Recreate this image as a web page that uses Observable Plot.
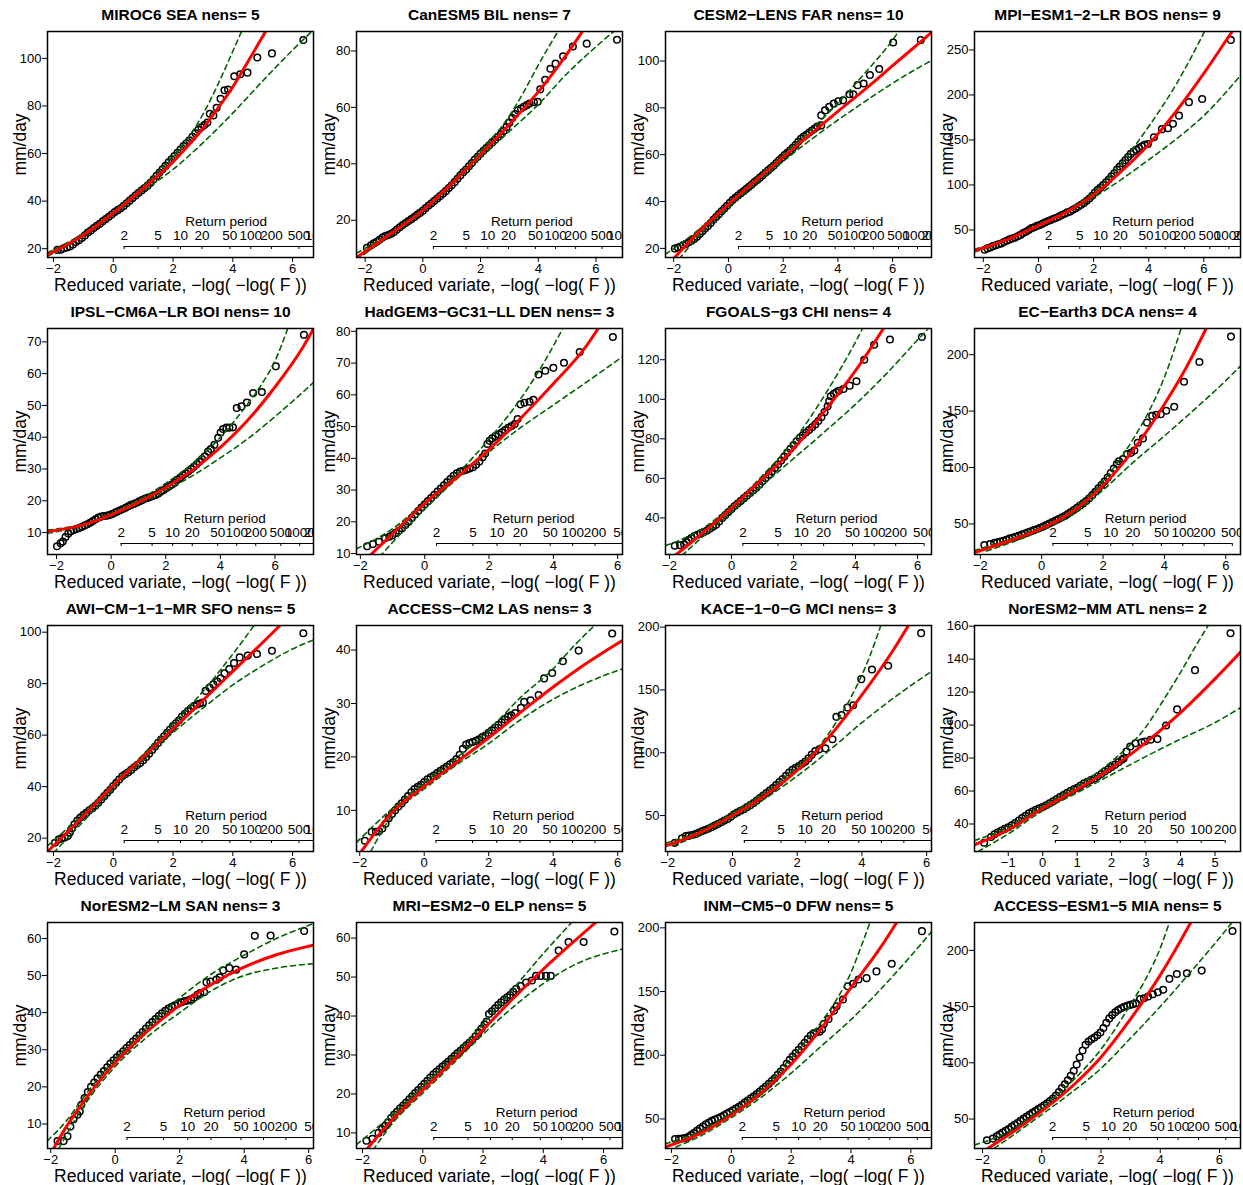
<!DOCTYPE html>
<html><head><meta charset="utf-8">
<script src="https://cdn.jsdelivr.net/npm/d3@7"></script>
<script src="https://cdn.jsdelivr.net/npm/@observablehq/plot@0.6"></script>
<style>
body{margin:0;background:#fff;}
#wrap{position:relative;width:1243px;height:1185px;overflow:hidden;}
.panel{position:absolute;width:313px;height:297px;}
</style></head><body><div id="wrap"></div>
<script>
// ---------- panel metadata ----------
const titles = ["MIROC6 SEA nens= 5","CanESM5 BIL nens= 7","CESM2\u2212LENS FAR nens= 10","MPI\u2212ESM1\u22122\u2212LR BOS nens= 9",
"IPSL\u2212CM6A\u2212LR BOI nens= 10","HadGEM3\u2212GC31\u2212LL DEN nens= 3","FGOALS\u2212g3 CHI nens= 4","EC\u2212Earth3 DCA nens= 4",
"AWI\u2212CM\u22121\u22121\u2212MR SFO nens= 5","ACCESS\u2212CM2 LAS nens= 3","KACE\u22121\u22120\u2212G MCI nens= 3","NorESM2\u2212MM ATL nens= 2",
"NorESM2\u2212LM SAN nens= 3","MRI\u2212ESM2\u22120 ELP nens= 5","INM\u2212CM5\u22120 DFW nens= 5","ACCESS\u2212ESM1\u22125 MIA nens= 5"];
const xDomains = [[-2.2,6.7],[-2.3,6.92],[-2.3,7.42],[-2.32,7.33],[-2.33,7.41],[-2.12,6.15],[-2.13,6.45],[-2.19,6.48],
[-2.2,6.7],[-2.1,6.15],[-2.07,6.15],[-1.98,5.74],[-2.1,6.15],[-2.2,6.63],[-2.2,6.69],[-2.27,6.71]];
const yDomains = [[16.3,111.3],[6.8,86.9],[16.1,112.6],[19.4,270.5],[3.1,74.2],[9.7,80.9],[21.5,135.8],[22.9,223.2],
[14.8,102.6],[2.3,44.6],[21.4,201.3],[23.3,160.4],[3.4,64.3],[6.0,64.0],[26.8,204.2],[23.8,224.8]];
const yTickValues = [[20,40,60,80,100],[20,40,60,80],[20,40,60,80,100],[50,100,150,200,250],[10,20,30,40,50,60,70],[10,20,30,40,50,60,70,80],[40,60,80,100,120],[50,100,150,200],
[20,40,60,80,100],[10,20,30,40],[50,100,150,200],[40,60,80,100,120,140,160],[10,20,30,40,50,60],[10,20,30,40,50,60],[50,100,150,200],[50,100,150,200]];
const xTickValues = [[-2,0,2,4,6],[-2,0,2,4,6],[-2,0,2,4,6],[-2,0,2,4,6],[-2,0,2,4,6],[-2,0,2,4,6],[-2,0,2,4,6],[-2,0,2,4,6],
[-2,0,2,4,6],[-2,0,2,4,6],[-2,0,2,4,6],[-1,0,1,2,3,4,5],[-2,0,2,4,6],[-2,0,2,4,6],[-2,0,2,4,6],[-2,0,2,4,6]];
const returnPeriods = [2,5,10,20,50,100,200,500,1000,2000];
const xTitle = "Reduced variate, \u2212log( \u2212log( F ))";
const yTitle = "mm/day";

// ---------- panel 1 MIROC6 SEA ----------
const p01Pts = [[-1.87,19.5],[-1.75,19.6],[-1.65,20.2],[-1.55,20.5],[-1.45,20.9],[-1.35,21.8],[-1.25,22.8],[-1.15,23.6],[-1.05,24.5],[-0.95,25.6],[-0.85,26.8],[-0.75,27.6],[-0.65,28.7],[-0.55,29.6],[-0.45,30.5],[-0.35,31.5],[-0.25,32.5],[-0.15,33.4],[-0.05,34.4],[0.05,35.4],[0.15,36.2],[0.25,37],[0.35,38],[0.45,39.1],[0.55,40.2],[0.65,41.3],[0.75,42.4],[0.85,43.5],[0.95,44.5],[1.05,45.5],[1.15,46.5],[1.25,47.7],[1.35,49.2],[1.45,50.6],[1.55,52],[1.65,53.4],[1.75,54.8],[1.85,56.3],[1.95,57.6],[2.05,58.9],[2.15,60.3],[2.25,61.7],[2.35,63.1],[2.45,64.3],[2.55,65.6],[2.65,67],[2.75,68.5],[2.85,70],[2.95,71],[3.05,72],[3.15,73],[3.23,76.7],[3.35,76],[3.46,79.2],[3.59,83],[3.72,86.6],[3.84,86.9],[4.05,92.5],[4.25,93.3],[4.49,94],[4.82,100.4],[5.31,102.1],[6.36,107.7]];
const p01Fit = [[-2.2,17.5],[-1.5,22],[-1,25.8],[-0.5,30.2],[0,35],[0.5,40],[1,45.3],[1.5,50.8],[2,56.5],[2.5,63.3],[3,70.5],[3.5,79],[4,88],[4.5,98.5],[5.2,113.5]];
const p01Lo = [[-2.2,16.8],[-1,25.2],[0,34.5],[1,44.3],[2,53.3],[3,64.5],[4,77],[5,90.5],[6,103.5],[6.7,112]];
const p01Hi = [[-2.2,18.3],[-1,26.5],[0,35.6],[1,46.3],[2,59],[2.5,66.5],[3,76.5],[3.5,89],[4,103],[4.35,113]];

// ---------- panel 2 CanESM5 BIL ----------
const p02Pts = [[-1.94,10.2],[-1.8,11.1],[-1.7,11.8],[-1.6,12.4],[-1.5,13.1],[-1.4,13.9],[-1.3,14.4],[-1.2,14.8],[-1.1,15.2],[-1,15.8],[-0.9,16.7],[-0.8,17.5],[-0.7,18.3],[-0.6,19],[-0.5,19.7],[-0.4,20.4],[-0.3,21.1],[-0.2,21.9],[-0.1,22.6],[0,23.4],[0.1,24.3],[0.2,25.2],[0.3,26],[0.4,26.9],[0.5,27.7],[0.6,28.6],[0.7,29.5],[0.8,30.4],[0.9,31.4],[1,32.4],[1.1,33.5],[1.2,34.7],[1.3,35.9],[1.4,37],[1.5,38],[1.6,39.1],[1.7,40.3],[1.8,41.5],[1.9,42.5],[2,43.6],[2.1,44.6],[2.2,45.6],[2.3,46.6],[2.4,47.6],[2.5,48.5],[2.6,49.5],[2.7,50.5],[2.8,51.6],[2.9,53],[3,54.6],[3.1,56.2],[3.2,57.6],[3.29,59],[3.4,59.6],[3.5,60.2],[3.6,60.8],[3.7,61.4],[3.85,61.8],[3.98,62],[4.07,66.4],[4.24,69.8],[4.42,73.7],[4.6,75.5],[4.86,78.1],[5.2,81.6],[5.68,82.6],[6.73,84]];
const p02Fit = [[-2.3,6.8],[-1,16],[0,23.5],[1,33],[2,43.3],[3,54],[4,65.5],[5,79],[5.6,88]];
const p02Lo = [[-2.3,6],[-1,15.5],[0,23],[1,32.5],[2,42.2],[3,51.5],[4,61],[5,72],[6,81.5],[6.92,89.5]];
const p02Hi = [[-2.3,8.3],[-1,16.5],[0,24],[1,33.6],[2,44.5],[3,57],[3.5,65.5],[4,75],[4.75,88]];

// ---------- panel 3 CESM2-LENS FAR ----------
const p03Pts = [[-1.96,19.9],[-1.85,20.4],[-1.74,20.8],[-1.65,21.4],[-1.55,21.9],[-1.45,22.6],[-1.35,23.2],[-1.25,24],[-1.15,25],[-1.05,26.1],[-0.95,27.3],[-0.85,28.5],[-0.75,29.6],[-0.65,30.8],[-0.55,32.2],[-0.45,33.4],[-0.35,34.6],[-0.25,35.8],[-0.15,37],[-0.05,38.2],[0.05,39.5],[0.15,40.6],[0.25,41.6],[0.35,42.6],[0.45,43.5],[0.55,44.4],[0.65,45.3],[0.75,46.3],[0.85,47.3],[0.95,48.3],[1.05,49.2],[1.15,50.2],[1.25,51.2],[1.35,52.3],[1.45,53.3],[1.55,54.3],[1.65,55.3],[1.75,56.4],[1.85,57.6],[1.95,58.7],[2.05,59.8],[2.15,60.8],[2.25,61.8],[2.35,62.9],[2.45,64.1],[2.55,65.5],[2.65,66.8],[2.75,67.7],[2.85,68.5],[2.95,69.5],[3.05,70.3],[3.15,71.2],[3.25,72],[3.39,72.5],[3.39,76.8],[3.53,78.9],[3.68,80.4],[3.85,81.8],[4.01,82.8],[4.19,83.2],[4.42,85.8],[4.56,85.8],[4.72,89.7],[4.94,90.4],[5.17,94],[5.51,96.6],[6.02,107.9],[7.03,109]];
const p03Fit = [[-2.05,15],[-1,28],[0,38.8],[1,49],[2,59],[3,68.8],[4,78.5],[5,88],[6,98],[7,108],[7.5,113]];
const p03Lo = [[-1.8,15.5],[-1,26.5],[0,37.5],[1,47.8],[2,57.2],[3,66.3],[4,74.8],[5,82.8],[6,90.5],[7,97.5],[7.42,100.2]];
const p03Hi = [[-2.3,17.5],[-1,28.8],[0,39.3],[1,49.8],[2,60],[3,70.5],[4,82],[5,95],[6,109],[6.3,114]];

// ---------- panel 4 MPI-ESM1-2-LR BOS ----------
const p04Pts = [[-1.95,28],[-1.85,29.5],[-1.75,30.5],[-1.65,32],[-1.55,33],[-1.45,34],[-1.35,35],[-1.25,36.5],[-1.15,38],[-1.05,39.5],[-0.95,40.5],[-0.85,41.5],[-0.75,43],[-0.65,44.5],[-0.55,46.5],[-0.45,48],[-0.35,50],[-0.25,52],[-0.15,53],[-0.05,54.5],[0.05,55.5],[0.15,57],[0.25,58.5],[0.35,60],[0.45,61],[0.55,62.5],[0.65,63.5],[0.75,65],[0.85,66.5],[0.95,68],[1.05,69.5],[1.15,70.5],[1.25,72.5],[1.35,74],[1.45,76],[1.55,78],[1.65,80],[1.75,82.5],[1.85,85],[1.95,88],[2.05,91.5],[2.15,94.5],[2.25,97],[2.35,100],[2.45,103],[2.55,106],[2.65,109.5],[2.75,113],[2.85,117],[2.95,120.5],[3.05,124],[3.15,127.5],[3.25,131],[3.35,134.5],[3.45,137],[3.55,139],[3.65,141],[3.75,143],[3.85,144.5],[3.97,145.5],[4.19,153],[4.48,162],[4.7,163],[4.88,168],[5.1,177],[5.46,192],[5.94,195.5],[6.98,261]];
const p04Fit = [[-2.32,27],[-1,41],[0,55],[1,69.5],[2,89],[3,115],[4,145],[5,182],[6,224],[7.03,270.5],[7.2,278]];
const p04Lo = [[-2.32,25.5],[-1,40],[0,54],[1,68],[2,86],[3,106],[4,128],[5,151],[6,177],[7.34,222]];
const p04Hi = [[-2.32,28.5],[-1,42],[0,56],[1,71],[2,92],[3,124],[4,165],[5,212],[6.1,275]];

// ---------- panel 5 IPSL-CM6A-LR BOI ----------
const p05Pts = [[-1.98,5.7],[-1.85,6.6],[-1.77,7.2],[-1.67,8.6],[-1.57,9.7],[-1.47,10.4],[-1.37,10.8],[-1.27,11.1],[-1.17,11.4],[-1.07,11.8],[-0.97,12.2],[-0.87,12.6],[-0.77,13.1],[-0.67,13.6],[-0.57,14.2],[-0.47,14.7],[-0.37,15],[-0.27,15.2],[-0.17,15.3],[-0.07,15.5],[0.03,15.8],[0.13,16.2],[0.23,16.6],[0.33,17],[0.43,17.4],[0.53,17.8],[0.63,18.3],[0.73,18.7],[0.83,19],[0.93,19.4],[1.03,19.8],[1.13,20.2],[1.23,20.6],[1.33,20.9],[1.43,21.2],[1.53,21.5],[1.63,21.8],[1.73,22.3],[1.83,22.9],[1.93,23.4],[2.03,24],[2.13,24.6],[2.23,25.1],[2.33,25.7],[2.43,26.6],[2.53,27.3],[2.63,28],[2.73,28.6],[2.83,29.3],[2.93,30],[3.03,30.7],[3.13,31.5],[3.23,32.3],[3.33,33.1],[3.43,34],[3.55,35.5],[3.65,36.3],[3.78,37.6],[3.92,39.8],[4.01,41.5],[4.1,42.6],[4.22,43],[4.33,43],[4.46,43.1],[4.6,49.2],[4.77,49.7],[4.97,50.9],[5.2,53.9],[5.52,54.2],[6.03,62.3],[7.06,72.2]];
const p05Fit = [[-2.33,10.3],[-1,12.5],[0,15.6],[1,19.5],[2,24.2],[3,29.8],[4,36.8],[5,45.3],[6,55.8],[7,68],[7.5,75.5]];
const p05Lo = [[-2.33,9.8],[-1,12.2],[0,15.3],[1,19],[2,23.3],[3,28],[4,33.5],[5,39.5],[6,46.5],[7,54],[7.41,57.2]];
const p05Hi = [[-2.33,10.8],[-1,12.8],[0,16],[1,20.2],[2,25.5],[3,31.8],[4,40],[5,50.5],[5.5,56.5],[6,64],[6.5,75]];

// ---------- panel 6 HadGEM3-GC31-LL DEN ----------
const p06Pts = [[-1.79,12.3],[-1.61,13],[-1.42,13.7],[-1.23,14.8],[-1.1,15.3],[-1,15.8],[-0.9,16.5],[-0.8,17.2],[-0.7,18],[-0.6,19],[-0.5,20],[-0.4,21.2],[-0.3,22.3],[-0.2,23.4],[-0.1,24.5],[0,25.5],[0.1,26.5],[0.2,27.5],[0.3,28.5],[0.4,29.5],[0.5,30.5],[0.6,31.5],[0.7,32.5],[0.8,33.5],[0.9,34.5],[1,35.3],[1.1,35.8],[1.2,36.1],[1.3,36.4],[1.4,36.8],[1.5,37.2],[1.6,38],[1.7,39],[1.8,40.3],[1.88,41.5],[1.95,44.5],[2.02,45.5],[2.1,46.3],[2.2,47],[2.3,47.6],[2.4,48.2],[2.5,48.9],[2.6,49.6],[2.7,50.2],[2.8,50.8],[2.89,52.4],[2.98,57],[3.1,57.5],[3.26,57.8],[3.38,58.4],[3.54,66.4],[3.75,67.6],[4,68.5],[4.33,70.1],[4.82,73.5],[5.85,78.2]];
const p06Fit = [[-1.75,8.9],[-1,16.2],[0,25.8],[1,34],[2,42.8],[3,52.8],[4,63.5],[5,75],[5.4,81]];
const p06Lo = [[-1.4,9],[-1,13.5],[0,24],[1,33.5],[2,42],[3,49.8],[4,56.8],[5,63.8],[6.15,72]];
const p06Hi = [[-2.12,11.5],[-1,17.8],[0,26.2],[1,35],[2,46],[3,59],[3.8,71.8],[4.35,82]];

// ---------- panel 7 FGOALS-g3 CHI ----------
const p07Pts = [[-1.83,25.9],[-1.66,26.2],[-1.53,26.6],[-1.45,27.8],[-1.38,28.8],[-1.3,29.8],[-1.2,30.8],[-1.1,31.5],[-1,32.2],[-0.9,32.8],[-0.8,33.5],[-0.7,34.5],[-0.6,35.5],[-0.5,36.5],[-0.4,38.2],[-0.3,40],[-0.2,41.5],[-0.1,43],[0,44.5],[0.1,46],[0.2,47.3],[0.3,48.6],[0.4,50],[0.5,51.3],[0.6,52.6],[0.7,54],[0.8,55.3],[0.9,56.8],[1,58.5],[1.1,60.2],[1.2,61.8],[1.3,63.5],[1.4,65.2],[1.5,67],[1.6,69],[1.7,71],[1.8,73],[1.9,75],[2,76.8],[2.1,78.8],[2.2,80.5],[2.3,81.8],[2.4,83.2],[2.5,84.5],[2.6,85.8],[2.7,87.3],[2.8,89],[2.9,91],[3,93.5],[3.1,96.5],[3.15,99],[3.2,101.5],[3.3,102.8],[3.38,103.5],[3.46,104.3],[3.61,105.2],[3.81,106.9],[4.03,109.1],[4.28,120],[4.6,127.6],[5.11,130.2],[6.14,131.5]];
const p07Fit = [[-1.9,20],[-1,31.5],[0,45],[1,60],[2,75],[3,94],[4,114.5],[4.9,135.8],[5,138.3]];
const p07Lo = [[-1.6,21],[-1,29.5],[0,43],[1,56.5],[2,70],[3,83.5],[4,97.5],[5,113],[6,130],[6.45,137.5]];
const p07Hi = [[-2.13,26],[-1,34],[0,46],[1,61.5],[2,79],[3,102],[3.5,115],[4,129],[4.3,138]];

// ---------- panel 8 EC-Earth3 DCA ----------
const p08Pts = [[-1.87,31.3],[-1.68,32.2],[-1.55,33],[-1.45,33.7],[-1.35,34.3],[-1.25,35],[-1.15,36],[-1.05,37],[-0.95,37.8],[-0.85,38.5],[-0.75,39.5],[-0.65,40.5],[-0.55,41.5],[-0.45,42.5],[-0.35,43.5],[-0.25,44.5],[-0.15,45.5],[-0.05,46.5],[0.05,47.7],[0.15,49],[0.25,50.3],[0.35,51.6],[0.45,53],[0.55,54.3],[0.65,55.7],[0.75,57],[0.85,58.7],[0.95,60.5],[1.05,62.3],[1.15,64.2],[1.25,66.2],[1.35,68.2],[1.45,70.3],[1.55,72.8],[1.65,75.5],[1.75,78.5],[1.85,81.5],[1.95,84.5],[2.05,87.5],[2.15,91],[2.25,95],[2.35,99],[2.45,103],[2.52,105.6],[2.65,107.5],[2.78,112],[2.91,113],[3.02,115],[3.13,121.9],[3.3,125.8],[3.43,139.8],[3.6,145.8],[3.73,146.7],[3.88,147.3],[4.06,150.3],[4.32,153.9],[4.64,176],[5.14,193.5],[6.17,216]];
const p08Fit = [[-2.19,24.7],[-1,35.5],[0,46],[1,61],[2,84],[3,116],[4,156],[4.64,185],[5.36,223.2],[5.5,231]];
const p08Lo = [[-1.8,26],[-1,33.5],[0,44.5],[1,58.5],[2,80],[3,105],[4,128],[5,152],[6,177],[6.48,190]];
const p08Hi = [[-2.19,26.5],[-1,37],[0,47.5],[1,63],[2,88],[3,126],[3.5,150],[4,180],[4.6,228]];

// ---------- panel 9 AWI-CM-1-1-MR SFO ----------
const p09Pts = [[-1.95,18.2],[-1.82,19.5],[-1.72,20],[-1.62,20.2],[-1.52,20.8],[-1.45,22.2],[-1.38,23.8],[-1.3,25.4],[-1.2,26.8],[-1.1,28],[-1,29],[-0.9,29.8],[-0.8,30.8],[-0.7,31.6],[-0.6,32.6],[-0.5,33.7],[-0.4,35],[-0.3,36.3],[-0.2,37.6],[-0.1,38.8],[0,40.2],[0.1,41.5],[0.2,42.8],[0.3,44],[0.4,44.8],[0.5,45.6],[0.6,46.5],[0.7,47.5],[0.8,48.4],[0.9,49.2],[1,50.2],[1.1,51.5],[1.2,52.8],[1.3,54.2],[1.4,55.6],[1.5,57],[1.6,58.3],[1.7,59.6],[1.8,60.9],[1.9,62.2],[2,63.5],[2.1,64.6],[2.2,65.8],[2.3,67.2],[2.4,68.3],[2.5,69.4],[2.6,70.4],[2.7,71.3],[2.8,71.9],[2.9,72.3],[3,72.7],[3.09,77.2],[3.22,78.5],[3.35,79.8],[3.48,80.8],[3.59,82.1],[3.72,84],[3.88,85.7],[4.04,88],[4.23,90.2],[4.5,90.9],[4.81,91.5],[5.31,92.8],[6.36,99.6]];
const p09Fit = [[-2.2,14.8],[-1,28.5],[0,40.5],[1,51.5],[2,62.5],[3,73.5],[4,84.8],[5,96],[5.7,104]];
const p09Lo = [[-2,14.3],[-1,26.5],[0,39],[1,50.5],[2,61],[3,70.5],[4,79.5],[5,87],[6,93.5],[6.7,97]];
const p09Hi = [[-2.2,17],[-1,29.5],[0,41.2],[1,52.5],[2,64.5],[3,77],[4,91.5],[4.8,104]];

// ---------- panel 10 ACCESS-CM2 LAS ----------
const p10Pts = [[-1.84,4.3],[-1.63,6],[-1.5,6],[-1.4,6.1],[-1.3,6.6],[-1.2,7.5],[-1.1,8.5],[-1,9.3],[-0.9,10],[-0.8,10.7],[-0.7,11.3],[-0.6,12],[-0.5,12.7],[-0.4,13.4],[-0.3,14],[-0.2,14.4],[-0.1,14.8],[0,15.3],[0.1,15.8],[0.2,16.2],[0.3,16.5],[0.4,17],[0.5,17.4],[0.6,17.8],[0.7,18.2],[0.8,18.6],[0.9,19],[1,19.6],[1.1,20.4],[1.2,21.5],[1.3,22.3],[1.4,22.6],[1.5,22.8],[1.6,23],[1.7,23.3],[1.8,23.7],[1.9,24],[2,24.5],[2.1,25],[2.2,25.5],[2.3,26],[2.4,26.5],[2.5,27],[2.6,27.5],[2.7,27.8],[2.82,28.2],[3,29.2],[3.1,30.3],[3.3,30.6],[3.55,31.6],[3.72,34.7],[3.97,35.7],[4.3,37.9],[4.79,39.9],[5.83,43.1]];
const p10Fit = [[-1.95,2.3],[-1,9.6],[0,14.5],[1,19],[2,23.6],[3,28.4],[4,33.1],[5,37.4],[6.2,42]];
const p10Lo = [[-1.66,2.3],[-1,9],[0,14],[1,18.5],[2,22.5],[3,27],[4,30.8],[5,33.8],[6.15,36.5]];
const p10Hi = [[-2.1,4],[-1,10.3],[0,15.2],[1,19.8],[2,25],[3,31.2],[4,36.5],[4.6,40.5],[5.35,45]];

// ---------- panel 11 KACE-1-0-G MCI ----------
const p11Pts = [[-1.78,28.3],[-1.56,32],[-1.44,33.6],[-1.35,34],[-1.25,34.5],[-1.15,35.2],[-1.05,36.3],[-0.95,37.5],[-0.85,38.5],[-0.75,39.5],[-0.65,40.7],[-0.55,42],[-0.45,43.3],[-0.35,44.7],[-0.25,46],[-0.15,47.3],[-0.05,49],[0.05,51],[0.15,52.5],[0.25,53.8],[0.35,55],[0.45,56.7],[0.55,58.3],[0.65,60],[0.75,62],[0.85,64],[0.95,66],[1.05,68],[1.15,70],[1.25,72],[1.35,74.3],[1.45,76.6],[1.55,79],[1.65,81.7],[1.75,84.3],[1.85,86.5],[1.95,88],[2.05,89.5],[2.15,91.3],[2.25,93],[2.35,95.5],[2.45,98.5],[2.56,101.3],[2.68,102.7],[2.87,103.5],[3.09,110.7],[3.21,128.6],[3.37,130.1],[3.55,136],[3.73,137.8],[3.98,158.6],[4.31,166.3],[4.81,169.3],[5.83,195.2]];
const p11Fit = [[-2.08,25.7],[-1,36.5],[0,50],[1,66],[2,86],[3,113],[4,146],[5,183],[5.5,204]];
const p11Lo = [[-1.85,26],[-1,35],[0,48.5],[1,63.5],[2,81.5],[3,102],[4,124],[5,144],[6.15,164.8]];
const p11Hi = [[-2.07,28],[-1,38],[0,52],[1,68.5],[2,89],[2.7,106],[3.2,124],[3.7,146],[4.2,174],[4.62,204]];

// ---------- panel 12 NorESM2-MM ATL ----------
const p12Pts = [[-1.7,28.6],[-1.5,32.1],[-1.4,33.8],[-1.3,35],[-1.2,36],[-1.1,37],[-1,38],[-0.9,39.2],[-0.8,40.5],[-0.7,42],[-0.6,43.6],[-0.5,45],[-0.4,46.4],[-0.3,47.6],[-0.2,48.6],[-0.1,49.5],[0,50.3],[0.1,51.3],[0.2,52.5],[0.3,53.7],[0.4,55],[0.5,56.3],[0.6,57.6],[0.7,58.8],[0.8,59.9],[0.9,61],[1,62],[1.1,63.3],[1.2,64.6],[1.3,65.6],[1.4,66.6],[1.5,67.6],[1.6,68.9],[1.7,70.3],[1.8,71.8],[1.9,73.2],[2,74.6],[2.1,76],[2.2,77.5],[2.3,79],[2.35,79.9],[2.43,84],[2.54,87],[2.69,89],[2.87,89.5],[2.96,90],[3.13,91.1],[3.33,91.5],[3.58,99.7],[3.9,109.5],[4.42,133.3],[5.45,155.7]];
const p12Fit = [[-1.98,27.4],[-1,36.5],[0,49.5],[1,61],[2,74],[3,89.5],[4,107.5],[5,128],[5.8,145.5]];
const p12Lo = [[-1.87,23.3],[-1,34],[0,48],[1,59],[2,70],[3,81],[4,91.5],[5,101.5],[5.74,110.5]];
const p12Hi = [[-1.98,30],[-1,38],[0,51],[1,63],[2,78],[3,99],[3.5,115],[4,132],[4.5,150],[4.85,162]];

// ---------- panel 13 NorESM2-LM SAN ----------
const p13Pts = [[-1.79,5.4],[-1.6,5.4],[-1.48,6.7],[-1.39,9.3],[-1.29,11.3],[-1.17,12.5],[-1.1,13.4],[-1.05,15.2],[-0.95,17],[-0.85,18.6],[-0.75,20],[-0.65,21.2],[-0.55,22.3],[-0.45,23.3],[-0.35,24.3],[-0.25,25.3],[-0.15,26.3],[-0.05,27.2],[0.05,28],[0.15,28.8],[0.25,29.6],[0.35,30.5],[0.45,31.3],[0.55,32.2],[0.65,33],[0.75,33.9],[0.85,34.8],[0.95,35.7],[1.05,36.6],[1.15,37.5],[1.25,38.3],[1.35,39.1],[1.45,39.8],[1.55,40.5],[1.65,41.1],[1.75,41.6],[1.85,42],[1.95,42.4],[2.05,42.8],[2.15,43.1],[2.25,43.3],[2.35,43.6],[2.45,44.1],[2.55,44.8],[2.64,45.3],[2.76,45.5],[2.83,48.2],[2.95,48.4],[3.14,48.9],[3.24,49.5],[3.35,51.4],[3.54,52],[3.75,51.6],[4,55.7],[4.33,60.7],[4.82,60.8],[5.86,62]];
const p13Fit = [[-1.95,2.8],[-1.5,9.5],[-1,15.8],[-0.5,21.5],[0,26.5],[0.5,31],[1,35],[1.5,38.6],[2,42],[2.5,45],[3,47.7],[3.5,50.2],[4,52.3],[5,55.6],[6.2,58.3]];
const p13Lo = [[-1.75,3.4],[-1,14.5],[0,25.5],[1,33.5],[2,40],[3,46],[4,50],[5,52],[6.15,53.2]];
const p13Hi = [[-2.1,5.5],[-1.5,11],[-1,17],[0,27.5],[1,36],[2,44],[3,50.5],[4,55.5],[5,60],[6.15,64]];

// ---------- panel 14 MRI-ESM2-0 ELP ----------
const p14Pts = [[-1.87,8],[-1.67,8.5],[-1.47,10],[-1.35,11],[-1.25,11.8],[-1.15,12.8],[-1.05,13.8],[-0.95,14.7],[-0.85,15.5],[-0.75,16.3],[-0.65,17],[-0.55,17.8],[-0.45,18.6],[-0.35,19.4],[-0.25,20.2],[-0.15,21],[-0.05,21.8],[0.05,22.6],[0.15,23.4],[0.25,24.2],[0.35,25],[0.45,25.7],[0.55,26.3],[0.65,27],[0.75,27.6],[0.85,28.3],[0.95,29],[1.05,29.7],[1.15,30.4],[1.25,31.1],[1.35,31.8],[1.45,32.5],[1.55,33.2],[1.65,33.9],[1.75,34.8],[1.85,35.8],[1.95,36.8],[2.05,37.8],[2.12,38.6],[2.2,40.5],[2.3,41.2],[2.4,42],[2.5,42.8],[2.6,43.5],[2.7,44.2],[2.8,44.8],[2.9,45.4],[3,46.2],[3.1,47],[3.25,47.7],[3.43,48.6],[3.62,49.1],[3.76,50.3],[3.92,50.3],[4.09,50.3],[4.25,50.3],[4.51,56.8],[4.84,59],[5.34,59],[6.36,61.7]];
const p14Fit = [[-1.9,5.4],[-1,13.5],[0,21],[1,28.5],[2,36.5],[3,44.5],[4,52],[5,59],[5.8,64.4]];
const p14Lo = [[-1.65,5.6],[-1,12.5],[0,20.2],[1,27.7],[2,35.3],[3,42.3],[4,48.3],[5,53],[6.63,57.2]];
const p14Hi = [[-2.2,7],[-1,14.8],[0,22],[1,29.5],[2,38],[3,47],[4,56],[5,64.5]];

// ---------- panel 15 INM-CM5-0 DFW ----------
const p15Pts = [[-1.88,34.2],[-1.75,34.4],[-1.65,34.6],[-1.55,35],[-1.45,35.8],[-1.35,37.3],[-1.25,39],[-1.15,40.7],[-1.05,42.4],[-0.95,44],[-0.85,45.7],[-0.75,47.2],[-0.65,48.5],[-0.55,49.5],[-0.45,50.5],[-0.35,51.5],[-0.25,52.8],[-0.15,54.2],[-0.05,55.5],[0.05,56.8],[0.15,58.2],[0.25,59.5],[0.35,61.2],[0.45,62.8],[0.55,64.5],[0.65,66.2],[0.75,67.8],[0.85,69.5],[0.95,71.5],[1.05,73.5],[1.15,75.5],[1.25,77.5],[1.35,79.7],[1.45,82],[1.55,84.7],[1.65,87.3],[1.75,90],[1.85,93.3],[1.95,96.5],[2.05,99],[2.15,101.7],[2.25,104.3],[2.35,107],[2.45,109.7],[2.55,112.7],[2.65,115.5],[2.75,117.3],[2.85,118],[2.95,118.5],[3.03,120.5],[3.09,124.5],[3.25,128.4],[3.43,135],[3.52,138.4],[3.73,143.7],[3.89,154.2],[4.07,156],[4.25,159.5],[4.52,160.5],[4.85,165.8],[5.36,171.8],[6.37,197.4]];
const p15Fit = [[-2.2,28],[-1,39],[0,53],[1,70.5],[2,93],[3,121],[4,153],[5,185],[5.6,207]];
const p15Lo = [[-1.85,28],[-1,37],[0,51],[1,67],[2,86],[3,107],[4,128],[5,152],[6,178],[6.69,197]];
const p15Hi = [[-2.2,30.5],[-1,41],[0,55],[1,73],[2,98],[3,126],[3.5,143],[4,165],[4.3,183],[4.66,206]];

// ---------- panel 16 ACCESS-ESM1-5 MIA ----------
const p16Pts = [[-1.85,31.2],[-1.65,32.6],[-1.52,34.7],[-1.42,36.5],[-1.32,38],[-1.22,39.5],[-1.12,41],[-1.02,43],[-0.92,44.8],[-0.82,46.5],[-0.72,48.5],[-0.62,50.3],[-0.52,52],[-0.42,53.8],[-0.32,55.5],[-0.22,57.2],[-0.12,58.8],[-0.02,60.5],[0.08,62.2],[0.18,64],[0.28,66],[0.38,68.3],[0.48,71],[0.58,74],[0.68,77.5],[0.78,81],[0.88,84.5],[0.98,88.5],[1.08,93],[1.18,98.5],[1.28,105],[1.38,111],[1.48,116],[1.58,119],[1.68,121],[1.78,122.5],[1.88,124.5],[1.98,127],[2.08,131],[2.18,135.5],[2.28,139.5],[2.38,142.5],[2.48,145],[2.58,147],[2.68,148.5],[2.78,149.8],[2.88,150.8],[2.98,151.5],[3.08,152.2],[3.18,153],[3.32,156.8],[3.45,157.4],[3.59,159],[3.75,161],[3.92,162.7],[4.1,165],[4.31,174.7],[4.56,179],[4.9,179.7],[5.4,182],[6.44,217.3]];
const p16Fit = [[-1.9,22.5],[-1,38],[0,57],[1,78.5],[2,105],[3,139],[4,178],[5.03,224.8],[5.2,233]];
const p16Lo = [[-1.6,24],[-1,35],[0,54],[1,73.5],[2,95],[3,122],[4,150],[5,180],[6,211],[6.4,224]];
const p16Hi = [[-2.27,27],[-1,40.5],[0,60],[1,83],[2,112],[3,152],[3.5,174],[4,202],[4.35,228]];

const pointSets = [p01Pts,p02Pts,p03Pts,p04Pts,p05Pts,p06Pts,p07Pts,p08Pts,p09Pts,p10Pts,p11Pts,p12Pts,p13Pts,p14Pts,p15Pts,p16Pts];
const fitSets = [p01Fit,p02Fit,p03Fit,p04Fit,p05Fit,p06Fit,p07Fit,p08Fit,p09Fit,p10Fit,p11Fit,p12Fit,p13Fit,p14Fit,p15Fit,p16Fit];
const loSets = [p01Lo,p02Lo,p03Lo,p04Lo,p05Lo,p06Lo,p07Lo,p08Lo,p09Lo,p10Lo,p11Lo,p12Lo,p13Lo,p14Lo,p15Lo,p16Lo];
const hiSets = [p01Hi,p02Hi,p03Hi,p04Hi,p05Hi,p06Hi,p07Hi,p08Hi,p09Hi,p10Hi,p11Hi,p12Hi,p13Hi,p14Hi,p15Hi,p16Hi];

// ---------- drawing ----------
const W = 313, H = 297, ML = 47, MR = 0, MT = 31, MB = 40;
const FONT = "'Liberation Sans', Arial, Helvetica, sans-serif";
const px = d => d[0], py = d => d[1];

function makePanel(i) {
  const [x0, x1] = xDomains[i], [y0, y1] = yDomains[i];
  const k = (y1 - y0) / (H - MT - MB);
  const yLine = y0 + 11 * k, yTickEnd = y0 + 8 * k;
  const rp = returnPeriods.map(T => ({T, pos: -Math.log(-Math.log(1 - 1 / T))})).filter(d => d.pos <= x1 + 0.3);
  const rpMid = d3.mean(rp, d => d.pos);
  return Plot.plot({
    width: W, height: H, marginLeft: ML, marginRight: MR, marginTop: MT, marginBottom: MB,
    x: {domain: [x0, x1]},
    y: {domain: [y0, y1]},
    style: {fontFamily: FONT, fontSize: "13px", color: "black", background: "none", overflow: "visible"},
    marks: [
      Plot.dot(pointSets[i], {x: px, y: py, r: 3.3, stroke: "black", strokeWidth: 1.5, fill: "none", clip: true}),
      Plot.line(loSets[i], {x: px, y: py, stroke: "#006400", strokeWidth: 1.6, strokeDasharray: "5,4", curve: "monotone-x", clip: true}),
      Plot.line(hiSets[i], {x: px, y: py, stroke: "#006400", strokeWidth: 1.6, strokeDasharray: "5,4", curve: "monotone-x", clip: true}),
      Plot.line(fitSets[i], {x: px, y: py, stroke: "#ff0000", strokeWidth: 3, curve: "monotone-x", clip: true}),
      Plot.ruleY([{a: rp[0].pos, b: rp[rp.length - 1].pos}], {y: () => yLine, x1: "a", x2: "b", stroke: "black", strokeWidth: 1, clip: true}),
      Plot.ruleX(rp, {x: "pos", y1: () => yTickEnd, y2: () => yLine, stroke: "black", strokeWidth: 1, clip: true}),
      Plot.text(rp, {x: "pos", y: () => yLine, text: d => String(d.T), dy: -10.5, lineAnchor: "middle", fontSize: 13.5, fill: "black", clip: true}),
      Plot.text([{x: rpMid, t: "Return period"}], {x: "x", y: () => yLine, text: "t", dy: -24.5, lineAnchor: "middle", textAnchor: "middle", fontSize: 13.5, fill: "black"}),
      Plot.axisX({ticks: xTickValues[i], tickSize: 5, tickPadding: 1.5, label: null, fontSize: 13, stroke: "black", fill: "black"}),
      Plot.axisY({ticks: yTickValues[i], tickSize: 5, tickPadding: 1, label: null, fontSize: 13, stroke: "black", fill: "black"}),
      Plot.frame({stroke: "black", strokeWidth: 1.5}),
      Plot.text([titles[i]], {text: d => d, frameAnchor: "top", dy: -16, lineAnchor: "middle", textAnchor: "middle", fontWeight: "bold", fontSize: 15.5, fill: "black"}),
      Plot.text([xTitle], {text: d => d, frameAnchor: "bottom", dy: 28, lineAnchor: "middle", textAnchor: "middle", fontSize: 17.5, fill: "black"}),
      Plot.text([yTitle], {text: d => d, frameAnchor: "left", dx: -27, rotate: -90, lineAnchor: "middle", textAnchor: "middle", fontSize: 17.5, fill: "black"})
    ]
  });
}

const wrap = document.getElementById("wrap");
for (let i = 0; i < 16; i++) {
  const div = document.createElement("div");
  div.className = "panel";
  div.style.left = ((i % 4) * 309) + "px";
  div.style.top = (Math.floor(i / 4) * 297) + "px";
  div.appendChild(makePanel(i));
  wrap.appendChild(div);
}
</script>
</body></html>
